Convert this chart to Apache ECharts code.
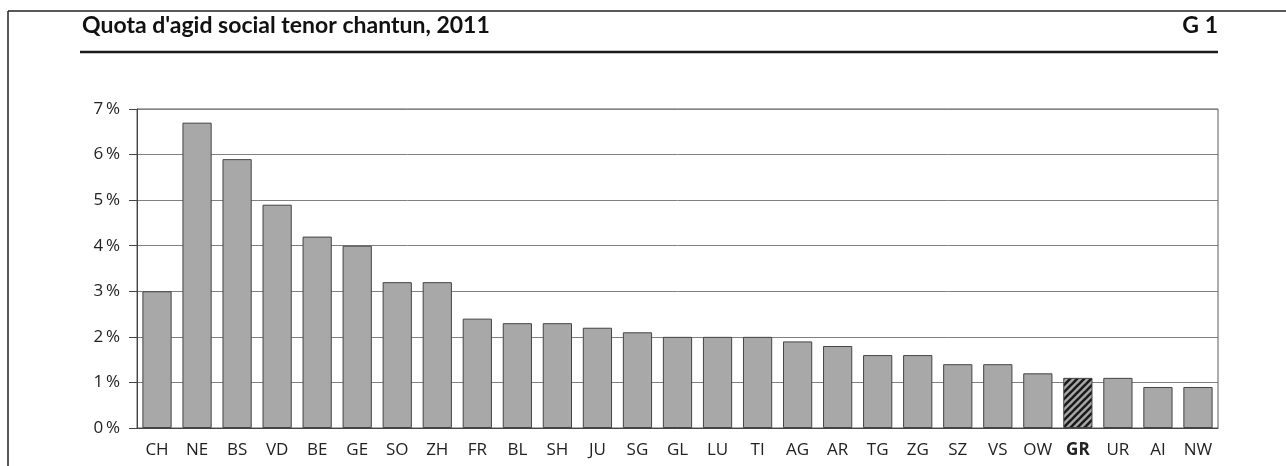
<!DOCTYPE html>
<html>
<head>
<meta charset="utf-8">
<script src="https://cdn.jsdelivr.net/npm/echarts@6/dist/echarts.min.js"></script>
<style>
html,body{margin:0;padding:0;background:#fff;}
#chart{width:1286px;height:466px;}
</style>
</head>
<body>
<div id="chart"></div>
<script>
var categories = ['CH','NE','BS','VD','BE','GE','SO','ZH','FR','BL','SH','JU','SG','GL','LU','TI','AG','AR','TG','ZG','SZ','VS','OW','GR','UR','AI','NW'];
var values = [3.0,6.7,5.9,4.9,4.2,4.0,3.2,3.2,2.4,2.3,2.3,2.2,2.1,2.0,2.0,2.0,1.9,1.8,1.6,1.6,1.4,1.4,1.2,1.1,1.1,0.9,0.9];
var highlighted = 'GR';
var yTicks = [0,1,2,3,4,5,6,7];
var titleText = "Quota d'agid social tenor chantun, 2011";
var figLabel = 'G 1';

var FONT = 'Lato, "Open Sans", sans-serif';
var AFONT = '"Open Sans", Lato, sans-serif';

// hatch pattern for highlighted bar
var pc = document.createElement('canvas');
pc.width = 7; pc.height = 7;
var ctx = pc.getContext('2d');
ctx.fillStyle = '#a8a8a8';
ctx.fillRect(0,0,7,7);
ctx.strokeStyle = '#1a1a1a';
ctx.lineWidth = 2.6;
for (var k = -1; k <= 1; k++) {
  ctx.beginPath();
  ctx.moveTo(k*7 - 1, 8);
  ctx.lineTo(k*7 + 8, -1);
  ctx.stroke();
}

var data = values.map(function(v, i){
  var item = {value: v};
  if (categories[i] === highlighted) {
    item.itemStyle = {color: {image: pc, repeat: 'repeat'}};
  }
  return item;
});

var chart = echarts.init(document.getElementById('chart'), null, {renderer:'canvas'});
chart.setOption({
  animation: false,
  backgroundColor: '#fff',
  grid: {left: 137, right: 68, top: 109, bottom: 38, show: true, borderColor: '#5a5a5a', borderWidth: 1, backgroundColor: 'transparent'},
  graphic: [
    {type:'line', shape:{x1:8,y1:11,x2:1286,y2:11}, style:{stroke:'#222',lineWidth:1.5}, silent:true},
    {type:'line', shape:{x1:8,y1:11,x2:8,y2:466}, style:{stroke:'#222',lineWidth:1.5}, silent:true},
    {type:'line', shape:{x1:80,y1:52,x2:1218,y2:52}, style:{stroke:'#1a1a1a',lineWidth:2.5}, silent:true},
    {type:'text', left: 82, top: 14, style:{text: titleText, font: 'bold 23px ' + FONT, fill:'#111'}, silent:true},
    {type:'text', right: 68, top: 14, style:{text: figLabel, font: 'bold 23px ' + FONT, fill:'#111'}, silent:true}
  ],
  xAxis: {
    type: 'category',
    data: categories,
    axisLine: {show: true, lineStyle: {color: '#444', width: 1}},
    axisTick: {show: false},
    axisLabel: {
      interval: 0, margin: 14, color: '#222', fontFamily: AFONT, fontSize: 17,
      formatter: function(v){ return v === highlighted ? '{b|' + v + '}' : v; },
      rich: {b: {fontWeight: 'bold', fontFamily: AFONT, fontSize: 17, color: '#222'}}
    }
  },
  yAxis: {
    type: 'value',
    min: yTicks[0], max: yTicks[yTicks.length-1], interval: 1,
    axisLine: {show: true, lineStyle: {color: '#444', width: 1}},
    axisTick: {show: true, length: 8, lineStyle: {color: '#444'}},
    splitLine: {show: true, lineStyle: {color: '#808080', width: 1}},
    axisLabel: {margin: 17, color: '#222', fontFamily: AFONT, fontSize: 17, formatter: '{value}\u2009%'}
  },
  series: [{
    type: 'bar',
    data: data,
    barCategoryGap: '27%',
    itemStyle: {color: '#a8a8a8', borderColor: '#444', borderWidth: 1},
    emphasis: {disabled: true}
  }]
});
</script>
</body>
</html>
